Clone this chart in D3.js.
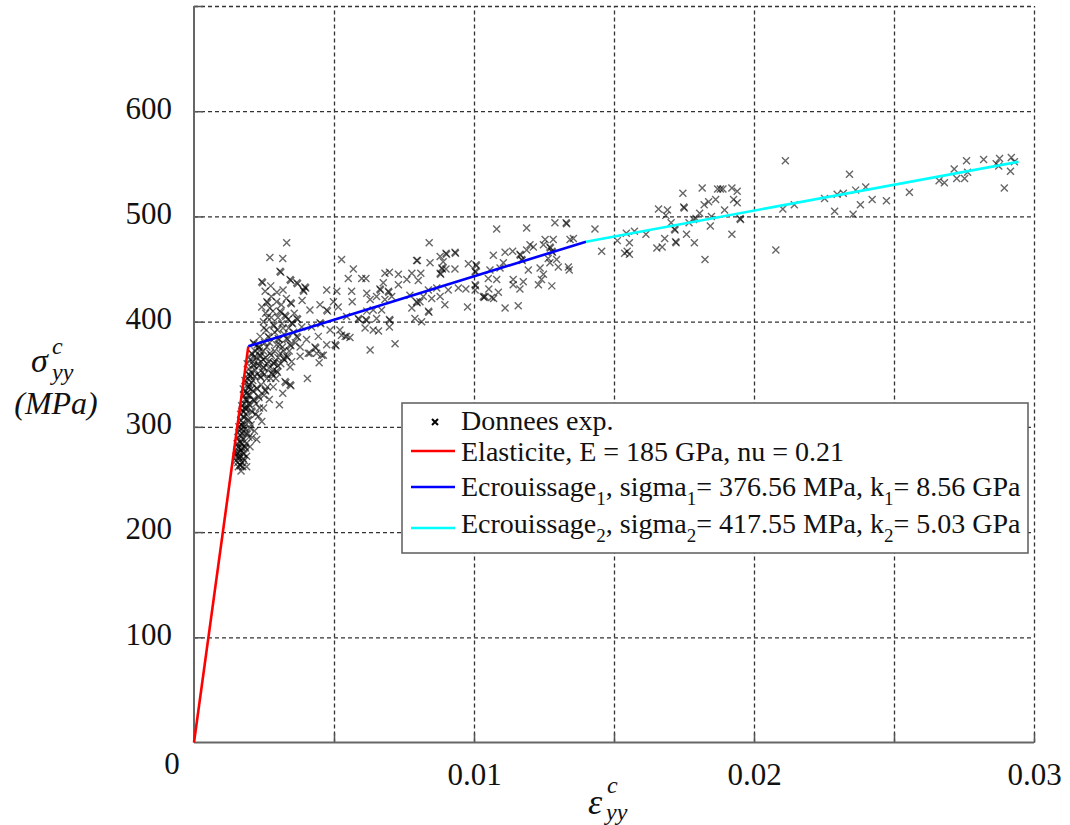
<!DOCTYPE html>
<html><head><meta charset="utf-8">
<script src="https://cdn.jsdelivr.net/npm/d3@7"></script>
<style>
body{margin:0;background:#fff} svg{display:block}
.serif{font-family:"Liberation Serif","Tinos","Times New Roman","DejaVu Serif","Noto Serif",serif;}
</style>
</head><body>
<svg id="chart" width="1070" height="825"></svg>
<script>
// ---------- data ----------
const xTickLabels = [0.01, 0.02, 0.03];
const xGridValues = [0.005, 0.01, 0.015, 0.02, 0.025, 0.03];
const yTickLabels = [100, 200, 300, 400, 500, 600];
const yGridValues = [100, 200, 300, 400, 500, 600, 700];

const elasticite = [[0, 0], [0.00194, 376.56]];
const ecrouissage1 = [[0.00194, 376.56], [0.01400, 476]];
const ecrouissage2 = [[0.01400, 476], [0.02945, 552]];

const legendLabels = ["Donnees exp.", "Elasticite, E = 185 GPa, nu = 0.21"];

// experimental points [strain, stress MPa]
const donneesExp = [
[0.00331,475],[0.00271,461],[0.00317,460],[0.00307,448],[0.00310,447],[0.00242,438],[0.00245,437],
[0.00343,440],[0.00346,439],[0.00367,437],[0.00370,436],[0.00396,433],[0.00399,432],[0.00390,430],[0.00392,429],
[0.00274,434],[0.00254,429],[0.00474,430],[0.00510,429],[0.00527,459],[0.00551,441],[0.00260,419],[0.00263,418],
[0.00295,419],[0.00345,418],[0.00348,417],[0.00242,414],[0.00271,413],[0.00307,410],[0.00310,409],[0.00325,406],
[0.00328,405],[0.00367,403],[0.00370,402],[0.00414,411],[0.00450,416],[0.00474,411],[0.00477,410],[0.00498,419],
[0.00515,414],[0.00248,400],[0.00283,397],[0.00286,396],[0.00349,399],[0.00352,398],[0.00385,395],[0.00420,395],
[0.00450,399],[0.00453,398],[0.00486,392],[0.00521,392],[0.00545,386],[0.00236,386],[0.00265,386],[0.00268,385],
[0.00301,384],[0.00304,383],[0.00331,384],[0.00334,383],[0.00367,386],[0.00370,385],[0.00402,383],[0.00444,386],
[0.00212,380],[0.00214,379],[0.00230,376],[0.00232,375],[0.00260,376],[0.00295,378],[0.00343,378],[0.00346,377],
[0.00379,376],[0.00432,376],[0.00435,375],[0.00474,378],[0.00504,378],[0.00507,377],[0.00408,370],[0.00438,370],
[0.00462,368],[0.00206,370],[0.00208,369],[0.00236,368],[0.00238,367],[0.00271,370],[0.00331,367],[0.00334,366],
[0.00379,367],
[0.00212,359],[0.00214,358],[0.00248,357],[0.00250,356],[0.00283,361],[0.00286,360],[0.00319,365],[0.00322,364],
[0.00349,362],[0.00414,370],[0.00456,368],[0.00447,361],[0.00200,349],[0.00202,348],[0.00236,348],[0.00238,347],
[0.00277,351],[0.00280,350],[0.00295,353],[0.00298,352],[0.00343,357],[0.00325,343],[0.00328,342],[0.00343,340],
[0.00346,339],[0.00405,346],[0.00194,338],[0.00196,337],[0.00224,337],[0.00226,336],[0.00254,335],[0.00256,334],
[0.00283,338],[0.00317,332],[0.00269,326],[0.00248,318],[0.00305,321],[0.00188,326],[0.00190,325],[0.00212,326],
[0.00214,325],[0.00230,329],[0.00232,328],[0.00182,318],[0.00184,317],[0.00206,315],[0.00208,314],[0.00230,310],
[0.00242,305],[0.00176,310],[0.00178,309],[0.00194,307],[0.00196,306],[0.00170,302],[0.00172,301],[0.00200,299],
[0.00188,294],[0.00190,293],[0.00170,291],[0.00224,288],[0.00164,286],[0.00166,285],[0.00158,281],[0.00160,280],
[0.00182,281],[0.00184,280],[0.00200,281],[0.00152,276],[0.00154,275],[0.00176,275],[0.00178,274],[0.00158,272],
[0.00160,271],[0.00188,272],[0.00164,264],[0.00166,263],[0.00188,262],
[0.00150,268],[0.00156,266],[0.00162,270],[0.00168,278],[0.00172,284],[0.00156,290],[0.00162,296],[0.00168,298],
[0.00174,304],[0.00180,300],[0.00166,312],[0.00172,316],[0.00180,322],[0.00186,312],[0.00178,330],[0.00184,334],
[0.00192,330],[0.00200,320],[0.00186,342],[0.00192,346],[0.00198,340],[0.00204,336],[0.00210,344],[0.00196,355],
[0.00204,352],[0.00210,362],[0.00218,354],[0.00222,366],[0.00228,360],[0.00240,362],[0.00244,352],[0.00218,372],
[0.00226,378],[0.00248,372],[0.00256,366],[0.00262,360],[0.00268,356],[0.00274,346],[0.00290,362],[0.00300,358],
[0.00308,370],[0.00316,376],[0.00322,388],[0.00288,390],[0.00258,392],[0.00276,404],[0.00298,392],[0.00314,398],
[0.00338,394],[0.00356,390],[0.00362,380],[0.00312,416],[0.00330,422],[0.00256,408],[0.00222,322],[0.00216,296],
[0.00208,290],[0.00174,262],[0.00168,258],[0.00180,268],
[0.00158,262],[0.00170,266],[0.00150,272],[0.00162,276],[0.00172,280],[0.00154,284],[0.00164,292],[0.00176,288],
[0.00160,300],[0.00172,294],[0.00182,298],[0.00168,306],[0.00178,314],[0.00188,318],[0.00170,320],[0.00182,326],
[0.00196,322],[0.00176,336],[0.00188,332],[0.00200,330],[0.00210,334],[0.00182,344],[0.00194,350],[0.00206,342],
[0.00216,348],[0.00190,360],[0.00200,364],[0.00214,366],[0.00226,350],[0.00232,358],[0.00246,364],[0.00252,350],
[0.00260,346],[0.00266,362],[0.00276,368],[0.00284,354],[0.00292,346],[0.00300,366],[0.00310,360],[0.00240,340],
[0.00250,330],[0.00262,338],[0.00220,312],[0.00234,318],[0.00204,302],[0.00196,290],[0.00186,284],[0.00176,270],
[0.00234,372],[0.00252,380],[0.00270,380],[0.00288,372],[0.00306,378],[0.00320,372],[0.00340,372],[0.00282,410],
[0.00300,404],[0.00318,394],[0.00336,402],[0.00296,428],[0.00276,424],[0.00318,430],[0.00358,408],[0.00386,420],
[0.00250,394],[0.00262,404],
[0.00840,475],[0.00569,450],[0.00795,458],[0.00798,458],[0.00843,456],[0.00879,462],[0.00900,465],[0.00902,464],
[0.00932,466],[0.00934,465],[0.00890,457],[0.00885,451],[0.00887,450],[0.00932,450],[0.00980,455],[0.00599,441],
[0.00614,441],[0.00682,446],[0.00698,447],[0.00730,445],[0.00778,446],[0.00810,446],[0.00879,446],[0.00881,445],
[0.00900,450],[0.00676,437],[0.00664,431],[0.00666,430],[0.00694,429],[0.00696,428],[0.00730,435],[0.00760,440],
[0.00801,439],[0.00837,430],[0.00867,432],[0.00908,430],[0.00944,432],[0.00971,431],[0.01004,448],[0.01006,447],
[0.00563,429],[0.00565,419],[0.00617,427],[0.00629,421],[0.00652,424],[0.00682,421],[0.00706,424],[0.00771,425],
[0.00795,419],[0.00797,418],[0.00819,424],[0.00849,422],[0.00879,424],[0.00896,416],[0.00977,414],[0.00545,405],
[0.00587,403],[0.00589,402],[0.00617,410],[0.00640,411],[0.00670,411],[0.00778,413],[0.00807,419],[0.00837,410],
[0.00839,409],[0.00614,402],[0.00616,401],[0.00652,403],[0.00698,402],[0.00700,401],[0.00789,403],[0.00813,400],
[0.00611,394],[0.00640,392],[0.00659,391],[0.00698,395],[0.00527,387],[0.00557,385],[0.00540,386],[0.00629,373],
[0.00718,379],
[0.01081,488],[0.01188,489],[0.01289,494],[0.01329,494],[0.01331,493],[0.01432,488],[0.01456,467],[0.01007,454],
[0.01009,453],[0.01004,435],[0.01006,434],[0.01004,430],[0.01069,463],[0.01111,466],[0.01138,467],[0.01164,464],
[0.01166,463],[0.01170,459],[0.01172,458],[0.01105,456],[0.01057,449],[0.01093,451],[0.01081,440],[0.01051,441],
[0.01033,424],[0.01036,423],[0.01039,424],[0.01063,423],[0.01087,428],[0.01111,413],[0.01158,415],[0.01140,440],
[0.01140,435],[0.01164,431],[0.01176,438],[0.01194,449],[0.01188,468],[0.01200,473],[0.01212,471],[0.01254,478],
[0.01271,471],[0.01273,470],[0.01283,478],[0.01278,467],[0.01280,466],[0.01265,460],[0.01295,459],[0.01271,456],
[0.01301,452],[0.01236,451],[0.01248,445],[0.01241,440],[0.01230,435],[0.01278,434],[0.01337,452],[0.01340,449],
[0.01343,478],[0.01355,479],[0.01248,473],[0.01053,431],[0.01070,422],
[0.01512,477],[0.01544,484],[0.01547,467],[0.01538,465],[0.01555,464],[0.01573,486],[0.01614,483],[0.01555,475],
[0.01653,470],[0.01672,471],[0.01659,507],[0.01691,506],[0.01685,501],[0.01681,479],[0.01704,494],[0.01716,488],
[0.01718,487],[0.01720,476],[0.01722,475],[0.01746,522],[0.01749,509],[0.01751,508],[0.01759,483],[0.01768,494],
[0.01784,497],[0.01787,475],[0.01793,498],[0.01806,503],[0.01815,527],[0.01822,511],[0.01825,459],[0.01838,514],
[0.01848,500],[0.01844,491],[0.01863,516],[0.01870,526],[0.01889,526],[0.01880,526],[0.01895,506],[0.01921,527],
[0.01927,516],[0.01921,483],[0.01940,524],[0.01950,498],[0.01952,497],[0.01940,513],
[0.02078,468],[0.02103,507],[0.02112,553],[0.02144,511],[0.02252,517],[0.02288,505],[0.02297,521],[0.02319,522],
[0.02341,540],[0.02354,502],[0.02363,525],[0.02380,511],[0.02399,528],[0.02422,516],[0.02473,515],[0.02555,523],
[0.02661,534],[0.02680,532],[0.02715,545],[0.02724,536],[0.02752,536],[0.02759,553],[0.02763,542],[0.02820,554],
[0.02865,550],[0.02877,555],[0.02874,548],[0.02919,556],[0.02930,552],[0.02916,543],[0.02894,527]
];

// ---------- drawing ----------
const svg = d3.select('#chart');
const x = d3.scaleLinear().domain([0, 0.03]).range([194, 1034]);
const y = d3.scaleLinear().domain([0, 700]).range([742.5, 6]);
const plotH = y(0) - y(700);
const plotW = x(0.03) - x(0);

// dashed grid
const gx = svg.append('g').attr('transform', `translate(0,${y(0)})`)
  .call(d3.axisBottom(x).tickValues(xGridValues).tickSize(-plotH).tickFormat(''));
gx.select('.domain').remove();
gx.selectAll('line').attr('stroke', '#333').attr('stroke-width', 1.3).attr('stroke-dasharray', '4,3');

const gy = svg.append('g').attr('transform', `translate(${x(0)},0)`)
  .call(d3.axisLeft(y).tickValues(yGridValues).tickSize(-plotW).tickFormat(''));
gy.select('.domain').remove();
gy.selectAll('line').attr('stroke', '#333').attr('stroke-width', 1.3).attr('stroke-dasharray', '4,3');

// inward solid ticks
const tx = svg.append('g').attr('transform', `translate(0,${y(0)})`)
  .call(d3.axisBottom(x).tickValues(xGridValues).tickSize(-9).tickFormat(''));
tx.select('.domain').remove();
tx.selectAll('line').attr('stroke', '#555').attr('stroke-width', 1.5);
const ty = svg.append('g').attr('transform', `translate(${x(0)},0)`)
  .call(d3.axisLeft(y).tickValues(yGridValues).tickSize(-9).tickFormat(''));
ty.select('.domain').remove();
ty.selectAll('line').attr('stroke', '#555').attr('stroke-width', 1.5);

// axis lines (left & bottom)
svg.append('line').attr('x1', x(0)).attr('x2', x(0)).attr('y1', y(700)).attr('y2', y(0))
  .attr('stroke', '#666').attr('stroke-width', 2);
svg.append('line').attr('x1', x(0)).attr('x2', x(0.03)).attr('y1', y(0)).attr('y2', y(0))
  .attr('stroke', '#666').attr('stroke-width', 2);

// tick labels
const lx = svg.append('g').attr('transform', `translate(0,${y(0)})`)
  .call(d3.axisBottom(x).tickValues(xTickLabels).tickSize(0).tickPadding(20).tickFormat(d3.format('.2')));
lx.select('.domain').remove();
lx.attr('font-family', null);
lx.selectAll('text').attr('class', 'serif').attr('font-size', 31).attr('fill', '#111');

const ly = svg.append('g').attr('transform', `translate(${x(0)},0)`)
  .call(d3.axisLeft(y).tickValues(yTickLabels).tickSize(0).tickPadding(22).tickFormat(d3.format('d')));
ly.select('.domain').remove();
ly.attr('font-family', null);
ly.selectAll('text').attr('class', 'serif').attr('font-size', 31).attr('fill', '#111').attr('dy', '0.22em');

svg.append('text').attr('class', 'serif').attr('x', x(0) - 22).attr('y', 774).attr('text-anchor', 'middle')
  .attr('font-size', 31).attr('fill', '#111').text('0');

// scatter markers
const cross = (d) => {
  const cx = x(d[0]), cy = y(d[1]), r = 3.5;
  return `M${cx - r},${cy - r}L${cx + r},${cy + r}M${cx - r},${cy + r}L${cx + r},${cy - r}`;
};
svg.append('g').selectAll('path').data(donneesExp).join('path')
  .attr('d', cross).attr('stroke', '#000').attr('stroke-opacity', 0.6)
  .attr('stroke-width', 1.4).attr('fill', 'none');

// model lines
const line = d3.line().x(d => x(d[0])).y(d => y(d[1]));
svg.append('path').datum(elasticite).attr('d', line).attr('stroke', '#ff0000').attr('stroke-width', 2.6).attr('fill', 'none');
svg.append('path').datum(ecrouissage1).attr('d', line).attr('stroke', '#0000ff').attr('stroke-width', 2.6).attr('fill', 'none');
svg.append('path').datum(ecrouissage2).attr('d', line).attr('stroke', '#00ffff').attr('stroke-width', 2.6).attr('fill', 'none');

// legend
const lg = svg.append('g');
lg.append('rect').attr('x', 402).attr('y', 403).attr('width', 626).attr('height', 150)
  .attr('fill', '#fff').attr('stroke', '#666').attr('stroke-width', 1.6);
lg.append('path').attr('d', 'M432,419L438,425M432,425L438,419').attr('stroke', '#000').attr('stroke-width', 2);
lg.append('text').attr('class', 'serif').attr('x', 461).attr('y', 430).attr('font-size', 28).attr('fill', '#111').text(legendLabels[0]);
const legLines = [
  {c: '#ff0000', y: 451},
  {c: '#0000ff', y: 487},
  {c: '#00ffff', y: 528}
];
legLines.forEach(l => lg.append('line').attr('x1', 411).attr('x2', 455).attr('y1', l.y).attr('y2', l.y)
  .attr('stroke', l.c).attr('stroke-width', 2.6));
lg.append('text').attr('class', 'serif').attr('x', 461).attr('y', 461).attr('font-size', 28).attr('fill', '#111').text(legendLabels[1]);

function subText(yb, parts) {
  const t = lg.append('text').attr('class', 'serif').attr('x', 461).attr('y', yb).attr('font-size', 28).attr('fill', '#111');
  parts.forEach(p => {
    if (p.sub) t.append('tspan').attr('dy', 9).attr('font-size', 19).text(p.sub);
    else t.append('tspan').attr('dy', p.up ? -9 : 0).text(p.t);
  });
}
subText(496, [{t: 'Ecrouissage'}, {sub: '1'}, {t: ', sigma', up: 1}, {sub: '1'}, {t: '= 376.56 MPa, k', up: 1}, {sub: '1'}, {t: '= 8.56 GPa', up: 1}]);
subText(533, [{t: 'Ecrouissage'}, {sub: '2'}, {t: ', sigma', up: 1}, {sub: '2'}, {t: '= 417.55 MPa, k', up: 1}, {sub: '2'}, {t: '= 5.03 GPa', up: 1}]);

// axis labels (math italic)
function mathText(xp, yp, size, txt, anchor) {
  svg.append('text').attr('class', 'serif').attr('x', xp).attr('y', yp).attr('font-style', 'italic')
    .attr('font-size', size).attr('fill', '#111').attr('text-anchor', anchor || 'start').text(txt);
}
// x label: epsilon^c_yy
mathText(588, 814, 36, 'ε');
mathText(607, 793, 24, 'c');
mathText(606, 820, 24, 'yy');
// y label: sigma^c_yy (MPa)
mathText(31, 372, 34, 'σ');
mathText(52, 354, 24, 'c');
mathText(52, 380, 24, 'yy');
mathText(56, 414, 32, '(MPa)', 'middle');
</script>
</body></html>
